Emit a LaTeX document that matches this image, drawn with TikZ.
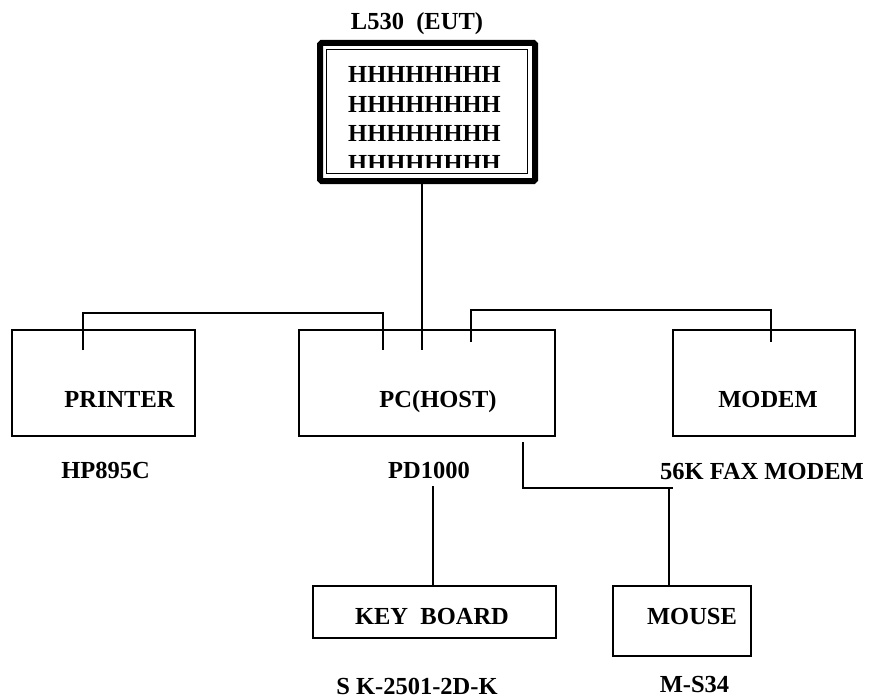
\documentclass[tikz,border=0pt]{standalone}
\usepackage{fontspec}
\setmainfont{Liberation Serif}
\usetikzlibrary{calc}
\begin{document}
\tikzset{
  box/.style={draw, line width=1.8pt, rectangle, inner sep=0pt},
  lbl/.style={font=\fontsize{24.5}{29}\selectfont\bfseries, inner sep=0pt, anchor=base},
  htext/.style={font=\fontsize{24.5}{29}\selectfont\bfseries, inner sep=0pt, anchor=base west},
  wire/.style={line width=1.8pt},
}
\begin{tikzpicture}[x=1pt,y=-1pt]
\useasboundingbox[fill=white] (0,0) rectangle (869,698);

% monitor
\node[draw, line width=6pt, rounded corners=1.5pt, minimum width=215pt, minimum height=138pt, inner sep=0pt] (mon) at (427.5,112) {};
\node[draw, line width=1.3pt, minimum width=201pt, minimum height=124pt, inner sep=0pt] (screen) at (427,111.5) {};
\begin{scope}
  \clip (329,52) rectangle (525,167);
  \foreach \i in {1,...,4} \node[htext] (h\i) at (348,{53.6+29.4*\i}) {HHHHHHHH};
\end{scope}
\node[lbl] (title) at (417,30) {L530\ \ (EUT)};

% boxes
\node[box, minimum width=183pt, minimum height=106pt] (printer) at (103.5,383) {};
\node[box, minimum width=256pt, minimum height=106pt] (pc) at (427,383) {};
\node[box, minimum width=182pt, minimum height=106pt] (modem) at (764,383) {};
\node[box, minimum width=243pt, minimum height=52pt] (keyboard) at (434.5,612) {};
\node[box, minimum width=138pt, minimum height=70pt] (mouse) at (682,621) {};

% box texts
\node[lbl] (tprinter) at (119.5,407) {PRINTER};
\node[lbl] (tpc) at (438,407) {PC(HOST)};
\node[lbl] (tmodem) at (768,407) {MODEM};
\node[lbl] (tkb) at (432,624) {KEY\ \ BOARD};
\node[lbl] (tmouse) at (692,624) {MOUSE};

% model labels
\node[lbl] (mprinter) at (105.5,478) {HP895C};
\node[lbl] (mpc) at (429,478) {PD1000};
\node[lbl] (mmodem) at (762,479) {56K FAX MODEM};
\node[lbl] (mkb) at (417,694) {S K-2501-2D-K};
\node[lbl] (mmouse) at (694.5,692) {M-S34};

% connector end points
\coordinate (pcM) at (422,350);
\coordinate (prA) at (83,350);
\coordinate (pcA) at (383,350);
\coordinate (pcB) at (471,342);
\coordinate (moA) at (771,342);
\coordinate (pcC) at (523,442);
\coordinate (msEnd) at (673,488);
\coordinate (msA) at (669,488);
\coordinate (kbA) at (433,486);

% connectors
\draw[wire] (mon.south -| pcM) -- (pcM);
\draw[wire] (prA) -- ++(0,-37) -| (pcA);
\draw[wire] (pcB) -- ++(0,-32) -| (moA);
\draw[wire] (pcC) |- (msEnd);
\draw[wire] (msA) -- (mouse.north -| msA);
\draw[wire] (kbA) -- (keyboard.north -| kbA);
\end{tikzpicture}
\end{document}
